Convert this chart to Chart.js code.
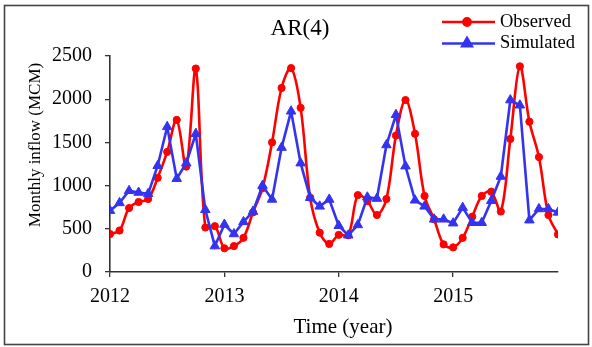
<!DOCTYPE html>
<html><head><meta charset="utf-8">
<script src="https://cdn.jsdelivr.net/npm/chart.js@4.4.1/dist/chart.umd.min.js"></script>
<style>html,body{margin:0;padding:0;background:#fff;overflow:hidden}#wrap{width:592px;height:347px;position:relative}canvas{display:block}</style>
</head><body><div id="wrap"><canvas id="c" width="592" height="347"></canvas></div>
<script>
const chartTitle = 'AR(4)';
const xTitle = 'Time (year)';
const yTitle = 'Monthly inflow (MCM)';
const yearLabels = ['2012', '2013', '2014', '2015'];
const seriesNames = ['Observed', 'Simulated'];
const observed = [
  440, 480, 740, 810, 845, 1090, 1390, 1760, 1220, 2355, 515, 530,
  275, 300, 395, 690, 970, 1500, 2130, 2360, 1900, 860, 455, 325,
  430, 425, 890, 820, 660, 845, 1580, 1990, 1600, 880, 610, 320,
  285, 395, 640, 880, 930, 700, 1540, 2380, 1740, 1330, 660, 435
];
const simulated = [
  710, 800, 940, 920, 905, 1230, 1680, 1080, 1260, 1600, 720, 300,
  550, 440, 580, 700, 1000, 840, 1440, 1860, 1260, 860, 760, 840,
  535, 425, 545, 865, 850, 1470, 1820, 1225, 830, 760, 610, 610,
  565, 745, 570, 570, 825, 1105, 1990, 1930, 600, 730, 730, 690
];

const toXY = arr => arr.map((v, i) => ({x: i, y: v}));
const serif = 'Liberation Serif, Times New Roman, serif';
const axisColor = '#333';

const decor = {
  id: 'decor',
  beforeDraw(chart) {
    const ctx = chart.ctx;
    ctx.save();
    ctx.fillStyle = '#fff';
    ctx.fillRect(0, 0, chart.width, chart.height);
    ctx.restore();
  },
  afterDraw(chart) {
    const ctx = chart.ctx;
    ctx.save();
    // frame
    ctx.strokeStyle = '#444';
    ctx.lineWidth = 1.6;
    ctx.strokeRect(4.5, 5.5, 584, 339);
    // title
    ctx.fillStyle = '#000';
    ctx.font = '23px ' + serif;
    ctx.textAlign = 'center';
    ctx.textBaseline = 'middle';
    ctx.fillText(chartTitle, 300, 29);
    // x title
    ctx.font = '21px ' + serif;
    ctx.textBaseline = 'alphabetic';
    ctx.fillText(xTitle, 343, 333);
    // y title
    ctx.save();
    ctx.translate(40, 145);
    ctx.rotate(-Math.PI / 2);
    ctx.font = '17px ' + serif;
    ctx.textAlign = 'center';
    ctx.textBaseline = 'alphabetic';
    ctx.fillText(yTitle, 0, 0);
    ctx.restore();
    // legend
    chart.data.datasets.forEach((ds, i) => {
      const y = 22 + i * 21.5;
      ctx.strokeStyle = ds.borderColor;
      ctx.lineWidth = ds.borderWidth;
      ctx.beginPath();
      ctx.moveTo(442, y);
      ctx.lineTo(495, y);
      ctx.stroke();
      ctx.fillStyle = ds.pointBackgroundColor;
      ctx.strokeStyle = ds.borderColor;
      Chart.helpers.drawPoint(ctx, {pointStyle: ds.pointStyle, radius: ds.pointRadius, rotation: 0, borderWidth: 1}, 467, y);
      ctx.fillStyle = '#000';
      ctx.font = '18.5px ' + serif;
      ctx.textAlign = 'left';
      ctx.textBaseline = 'middle';
      ctx.fillText(ds.label, 500, y);
    });
    ctx.restore();
  }
};

new Chart(document.getElementById('c'), {
  type: 'line',
  data: {
    datasets: [
      {
        label: seriesNames[0], data: toXY(observed), order: 1,
        borderColor: '#ff0000', backgroundColor: '#ff0000', pointBackgroundColor: '#ff0000',
        borderWidth: 2.6, pointStyle: 'circle', pointRadius: 3.6, pointBorderWidth: 1,
        tension: 0.35, fill: false
      },
      {
        label: seriesNames[1], data: toXY(simulated), order: 0,
        borderColor: '#3333f0', backgroundColor: '#3333f0', pointBackgroundColor: '#3333f0',
        borderWidth: 2.6, pointStyle: 'triangle', pointRadius: 5.5, pointBorderWidth: 1,
        tension: 0, fill: false
      }
    ]
  },
  options: {
    responsive: false,
    animation: false,
    devicePixelRatio: 1,
    layout: {padding: {left: 0, right: 34, top: 56, bottom: 0}},
    plugins: {legend: {display: false}, title: {display: false}, tooltip: {enabled: false}},
    scales: {
      x: {
        type: 'linear', min: 0, max: 47,
        afterBuildTicks: s => { s.ticks = yearLabels.map((_, i) => ({value: i * 12})); },
        afterFit: s => { s.height = 75; },
        ticks: {
          callback: v => yearLabels[Math.round(v / 12)],
          font: {family: serif, size: 20}, color: '#000', padding: 8, maxRotation: 0, autoSkip: false
        },
        grid: {display: true, drawOnChartArea: false, drawTicks: true, tickLength: 5, color: axisColor, lineWidth: 1.3},
        border: {display: true, color: axisColor, width: 1.6}
      },
      y: {
        min: 0, max: 2500,
        afterFit: s => { s.width = 110; },
        ticks: {stepSize: 500, callback: v => String(v), font: {family: serif, size: 20}, color: '#000', padding: 13},
        grid: {display: true, drawOnChartArea: false, drawTicks: true, tickLength: 5, color: axisColor, lineWidth: 1.3},
        border: {display: true, color: axisColor, width: 1.6}
      }
    }
  },
  plugins: [decor]
});
</script>
</body></html>
